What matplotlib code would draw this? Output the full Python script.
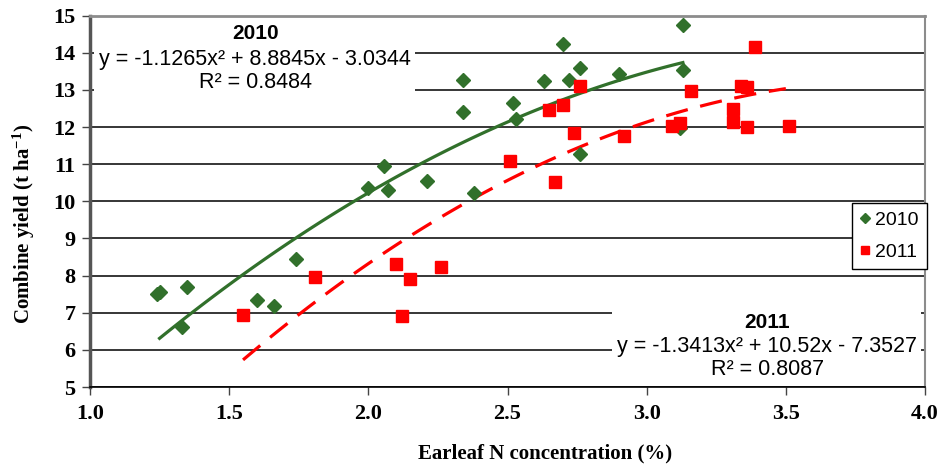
import matplotlib.pyplot as plt
import matplotlib.patches as mpatches
import numpy as np

plt.rcParams['mathtext.fontset'] = 'custom'
plt.rcParams['mathtext.rm'] = 'Liberation Serif:bold'
plt.rcParams['mathtext.default'] = 'rm'

# 2010 data (green diamonds)
n2010 = [1.24, 1.25, 1.33, 1.35, 1.60, 1.66, 1.74, 2.00, 2.056, 2.07, 2.21, 2.34, 2.34, 2.38,
         2.52, 2.53, 2.63, 2.70, 2.72, 2.76, 2.76, 2.90, 3.12, 3.13, 3.13]
y2010 = [7.50, 7.55, 6.61, 7.69, 7.33, 7.19, 8.44, 10.35, 10.96, 10.30, 10.54, 13.26, 12.42, 10.22,
         12.65, 12.23, 13.23, 14.24, 13.27, 13.59, 11.27, 13.43, 11.97, 14.76, 13.55]

# 2011 data (red squares)
n2011 = [1.55, 1.81, 2.10, 2.12, 2.15, 2.26, 2.51, 2.65, 2.67, 2.70, 2.74, 2.76, 2.92, 3.09,
         3.12, 3.16, 3.31, 3.31, 3.34, 3.36, 3.36, 3.39, 3.51]
y2011 = [6.95, 7.96, 8.32, 6.90, 7.90, 8.23, 11.08, 12.45, 10.51, 12.60, 11.85, 13.11, 11.77, 12.03,
         12.12, 12.96, 12.48, 12.15, 13.11, 13.08, 12.00, 14.16, 12.04]

# trend line coefficients (a, b, c) and ranges
coef2010 = [-1.1265, 8.8845, -3.0344]
coef2011 = [-1.3413, 10.52, -7.3527]
range2010 = [1.25, 3.13]
range2011 = [1.55, 3.50]

green = '#31702b'
red = '#ff0000'

fig = plt.figure(figsize=(9.42, 4.66), dpi=100)
ax = fig.add_axes([0.0955, 0.1695, 0.8865, 0.7968])

ax.set_xlim(1.0, 4.0)
ax.set_ylim(5, 15)
ax.set_xticks(np.arange(1.0, 4.01, 0.5))
ax.set_yticks(range(5, 16))
ax.xaxis.set_major_formatter(plt.FormatStrFormatter('%.1f'))
ax.yaxis.grid(True, color='black', linewidth=1.1)
ax.set_axisbelow(True)

for lab in ax.get_xticklabels() + ax.get_yticklabels():
    lab.set_fontfamily('Liberation Serif')
    lab.set_fontweight('bold')
    lab.set_fontsize(16)
ax.tick_params(axis='both', direction='out', length=5.5, width=1, color='#444')
ax.tick_params(axis='y', pad=5)
ax.tick_params(axis='x', pad=7)

ax.spines['left'].set_linewidth(2.5)
ax.spines['left'].set_color('#555555')
ax.spines['top'].set_linewidth(2)
ax.spines['top'].set_color('#8c8c8c')
ax.spines['right'].set_linewidth(1.5)
ax.spines['right'].set_color('#8c8c8c')
ax.spines['bottom'].set_linewidth(1.2)
ax.spines['bottom'].set_color('black')

ax.set_xlabel('Earleaf N concentration (%)', fontfamily='Liberation Serif',
              fontweight='bold', fontsize=15)
ax.set_ylabel(r'Combine yield (t ha$^{-1}$)', fontfamily='Liberation Serif',
              fontweight='bold', fontsize=15)
ax.xaxis.set_label_coords(0.545, -0.152)
ax.yaxis.set_label_coords(-0.064, 0.44)

# white boxes behind the equations
ax.add_patch(mpatches.Rectangle((0.005, 0.773), 0.384, 0.226, transform=ax.transAxes,
                                facecolor='white', edgecolor='none', zorder=1.5))
ax.add_patch(mpatches.Rectangle((0.625, 0.002), 0.370, 0.232, transform=ax.transAxes,
                                facecolor='white', edgecolor='none', zorder=1.5))

# trend lines
xs = np.linspace(range2010[0], range2010[1], 100)
ax.plot(xs, np.polyval(coef2010, xs), color=green, linewidth=2.3, zorder=3)
xs = np.linspace(range2011[0], range2011[1], 100)
ax.plot(xs, np.polyval(coef2011, xs), color=red, linewidth=2.3, dashes=(7, 4), zorder=3)

# points
ax.plot(n2010, y2010, 'D', color=green, markersize=7, label='2010', zorder=4)
ax.plot(n2011, y2011, 's', color=red, markersize=8, label='2011', zorder=4)

# equations
sans = 'Liberation Sans'
ax.text(0.198, 0.951, '2010', transform=ax.transAxes, ha='center', va='center',
        fontfamily=sans, fontweight='bold', fontsize=15, zorder=2)
ax.text(0.198, 0.881, 'y = -1.1265x² + 8.8845x - 3.0344', transform=ax.transAxes,
        ha='center', va='center', fontfamily=sans, fontsize=15.5, zorder=2)
ax.text(0.198, 0.821, 'R² = 0.8484', transform=ax.transAxes,
        ha='center', va='center', fontfamily=sans, fontsize=15.5, zorder=2)
ax.text(0.811, 0.175, '2011', transform=ax.transAxes, ha='center', va='center',
        fontfamily=sans, fontweight='bold', fontsize=15, zorder=2)
ax.text(0.811, 0.108, 'y = -1.3413x² + 10.52x - 7.3527', transform=ax.transAxes,
        ha='center', va='center', fontfamily=sans, fontsize=15.5, zorder=2)
ax.text(0.811, 0.048, 'R² = 0.8087', transform=ax.transAxes,
        ha='center', va='center', fontfamily=sans, fontsize=15.5, zorder=2)

leg = ax.legend(loc='upper right', bbox_to_anchor=(1.002, 0.495), fancybox=False,
                edgecolor='black', framealpha=1, prop={'family': sans, 'size': 14},
                handlelength=0.5, handletextpad=0.3, borderpad=0.4, labelspacing=0.75,
                borderaxespad=0, markerscale=0.75)
leg.get_frame().set_linewidth(1)
leg.set_zorder(5)

fig.savefig('out.png', dpi=100)
